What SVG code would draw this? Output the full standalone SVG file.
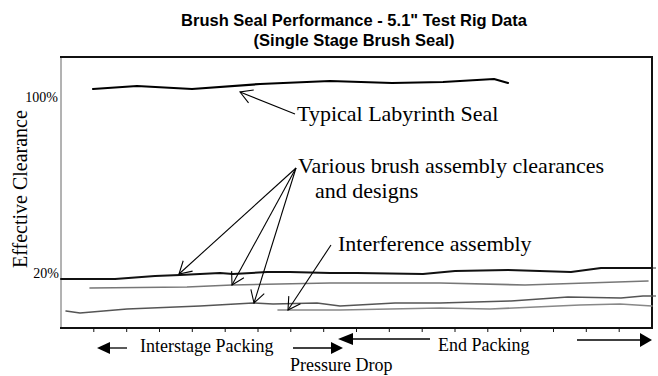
<svg xmlns="http://www.w3.org/2000/svg" width="658" height="376" viewBox="0 0 658 376">
<style>
.title{font-family:"Liberation Sans",Arial,sans-serif;font-weight:bold;font-size:16.5px;fill:#000;text-anchor:middle}
.lbl{font-family:"Liberation Serif","Times New Roman",serif;fill:#000}
.big{font-size:22px}
.mid{font-size:18px}
.sm{font-size:14px}
.curve{fill:none;stroke-linejoin:round;stroke-linecap:round}
.ptr{fill:none;stroke:#000;stroke-width:1.1}
.dir{stroke:#000;stroke-width:1.3;fill:none}
.tri{fill:#000}
</style>
<defs>
<marker id="vhead" viewBox="0 0 14 16" refX="13" refY="8" markerWidth="14" markerHeight="16" markerUnits="userSpaceOnUse" orient="auto">
<path d="M1,1 L13,8 L1,15" fill="none" stroke="#000" stroke-width="1.1"/>
</marker>
</defs>
<rect width="658" height="376" fill="#fff"/>
<g id="title">
<text class="title" x="354" y="26">Brush Seal Performance - 5.1" Test Rig Data</text>
<text class="title" x="354" y="46">(Single Stage Brush Seal)</text>
</g>
<g id="axes">
<line x1="61" y1="57" x2="61" y2="328" stroke="#666" stroke-width="1"/>
<line x1="60" y1="57" x2="653" y2="57" stroke="#111" stroke-width="2"/>
<line x1="652" y1="56" x2="652" y2="329" stroke="#111" stroke-width="2"/>
<line x1="60" y1="328" x2="653" y2="328" stroke="#111" stroke-width="2"/>
<path d="M93.8,328v4 M126.7,328v4 M159.5,328v4 M192.3,328v4 M225.2,328v4 M258,328v4 M290.8,328v4 M323.7,328v4 M356.5,328v4 M389.3,328v4 M422.2,328v4 M455,328v4 M487.8,328v4 M520.7,328v4 M553.5,328v4 M586.3,328v4 M619.2,328v4" stroke="#111" stroke-width="1"/>
<path d="M652,268h4 M652,296h4" stroke="#333" stroke-width="1"/>
<text class="lbl sm" x="58" y="102" text-anchor="end">100%</text>
<text class="lbl sm" x="59" y="278" text-anchor="end">20%</text>
<text class="lbl" font-size="20" transform="translate(27,268) rotate(-90)">Effective Clearance</text>
</g>
<g id="curves">
<polyline id="labyrinth" class="curve" stroke="#000" stroke-width="2.2" points="93,89 137,86 192,89 260,84 330,81 392,83 443,82 494,79 508,83"/>
<polyline id="brushA" class="curve" stroke="#111" stroke-width="2" points="61,279 115,279 155,276 180,275 220,273 233,274 267,272 290,272 330,273 357,273 423,274 455,271 508,270 571,272 601,268 652,268"/>
<polyline id="brushB" class="curve" stroke="#777" stroke-width="1.6" points="90,288 187,287 232,285 330,283 440,283 525,285 648,281"/>
<polyline id="brushC" class="curve" stroke="#555" stroke-width="1.5" points="66,311 80,313 127,309 200,306 253,303 273,304 317,303 340,306 395,303 440,303 511,301 568,297 621,298 643,296 652,296"/>
<polyline id="interf" class="curve" stroke="#888" stroke-width="1.6" points="278,310 340,310 390,309 440,308 490,309 580,305 620,304 652,306"/>
</g>
<g id="connectors">
<line class="ptr" x1="295" y1="114" x2="240" y2="92" marker-end="url(#vhead)"/>
<line class="ptr" x1="296" y1="168" x2="179" y2="274" marker-end="url(#vhead)"/>
<line class="ptr" x1="296" y1="168" x2="232" y2="285" marker-end="url(#vhead)"/>
<line class="ptr" x1="296" y1="168" x2="254" y2="303" marker-end="url(#vhead)"/>
<line class="ptr" x1="331" y1="245" x2="288" y2="310" marker-end="url(#vhead)"/>
<line class="dir" x1="108" y1="348" x2="127" y2="348"/>
<polygon class="tri" points="97,348 110,342 110,354"/>
<line class="dir" x1="293" y1="348" x2="332" y2="348"/>
<polygon class="tri" points="343,348 331,342 331,354"/>
<line class="dir" x1="352" y1="339" x2="430" y2="339"/>
<polygon class="tri" points="338,339 353,333 353,345"/>
<line class="dir" x1="577" y1="340" x2="641" y2="340"/>
<polygon class="tri" points="652,340 640,333 640,347"/>
</g>
<g id="labels">
<text class="lbl big" x="297" y="121">Typical Labyrinth Seal</text>
<text class="lbl big" x="298" y="173">Various brush assembly clearances</text>
<text class="lbl big" x="315" y="198">and designs</text>
<text class="lbl big" x="338" y="251">Interference assembly</text>
<text class="lbl mid" x="140" y="352">Interstage Packing</text>
<text class="lbl mid" x="438" y="351">End Packing</text>
<text class="lbl mid" x="290" y="371">Pressure Drop</text>
</g>
</svg>
